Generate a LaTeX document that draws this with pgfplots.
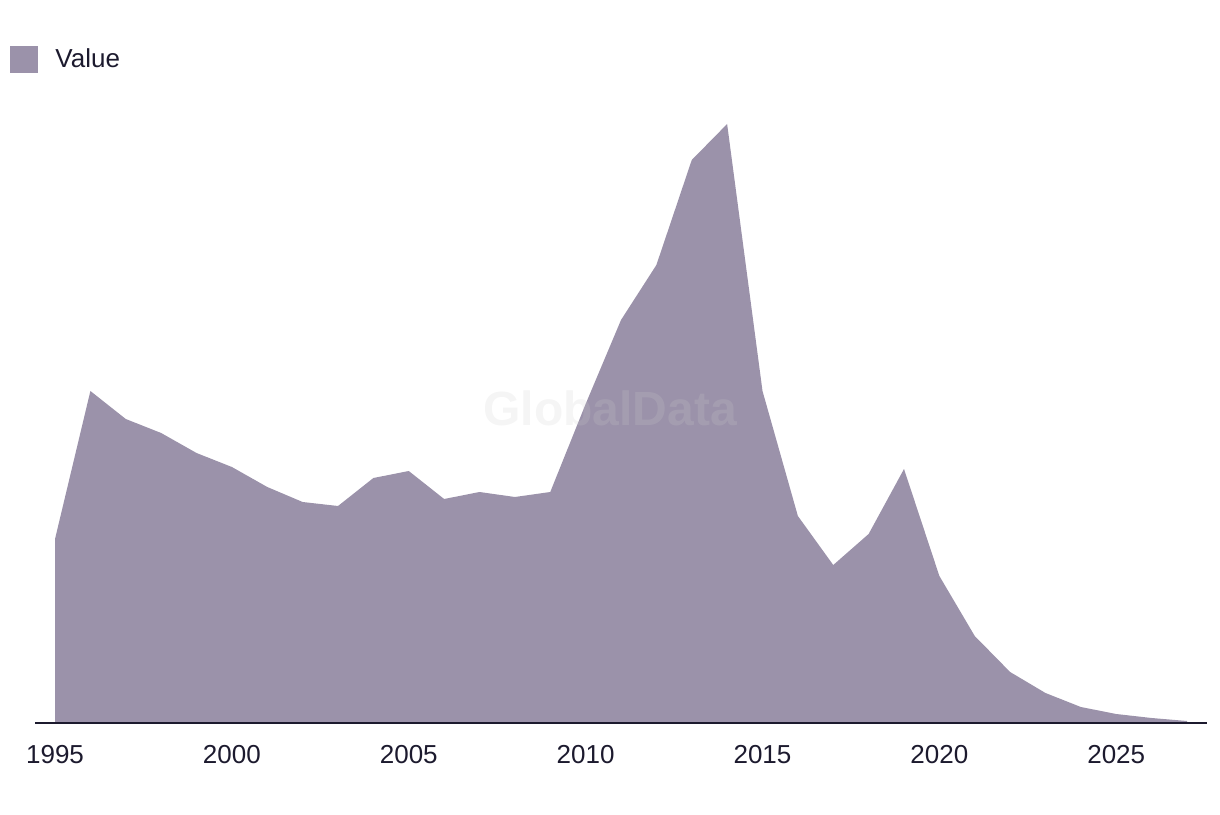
\documentclass[border=0pt]{standalone}
\usepackage{fontspec}
\setmainfont{Liberation Sans}
\usepackage{pgfplots}
\pgfplotsset{compat=1.18}
\definecolor{areac}{HTML}{9B92AA}
\definecolor{inkc}{HTML}{1C1A2E}
\begin{document}
\begin{tikzpicture}
\useasboundingbox (0,0) rectangle (610pt,407pt);
\begin{axis}[
  at={(17.5pt,45.5pt)}, anchor=south west,
  scale only axis, width=586pt, height=300pt,
  xmin=1994.434, xmax=2027.566, ymin=0, ymax=600,
  axis x line*=bottom, hide y axis,
  x axis line style={draw=inkc, line width=1pt},
  xtick={1995,2000,2005,2010,2015,2020,2025},
  major tick length=0pt,
  xtick style={draw=none},
  xticklabel style={font=\fontsize{13}{15}\selectfont, text=inkc, anchor=north, yshift=-7.8pt},
  /pgf/number format/1000 sep={},
  /pgf/number format/assume math mode=true,
  clip=false,
  axis on top,
]
\addplot[draw=none, fill=areac] coordinates {
(1995,0) (1995,184) (1996,332) (1997,304) (1998,290) (1999,270) (2000,256)
(2001,236) (2002,221) (2003,217) (2004,245) (2005,252) (2006,224) (2007,231)
(2008,226) (2009,231) (2010,319) (2011,403) (2012,458) (2013,563) (2014,599)
(2015,332) (2016,207) (2017,158) (2018,189) (2019,254) (2020,147) (2021,87)
(2022,51) (2023,30) (2024,16) (2025,9) (2026,5) (2027,2) (2027,0)
};
\end{axis}
\node[font=\bfseries\fontsize{24}{28}\selectfont, text=gray!40, opacity=0.2] at (305pt,203pt) {GlobalData};
\fill[areac] (5pt,370.5pt) rectangle (19pt,384pt);
\node[anchor=west, inner sep=0pt, font=\fontsize{13}{15}\selectfont, text=inkc] at (27.5pt,378pt) {Value};
\end{tikzpicture}
\end{document}
